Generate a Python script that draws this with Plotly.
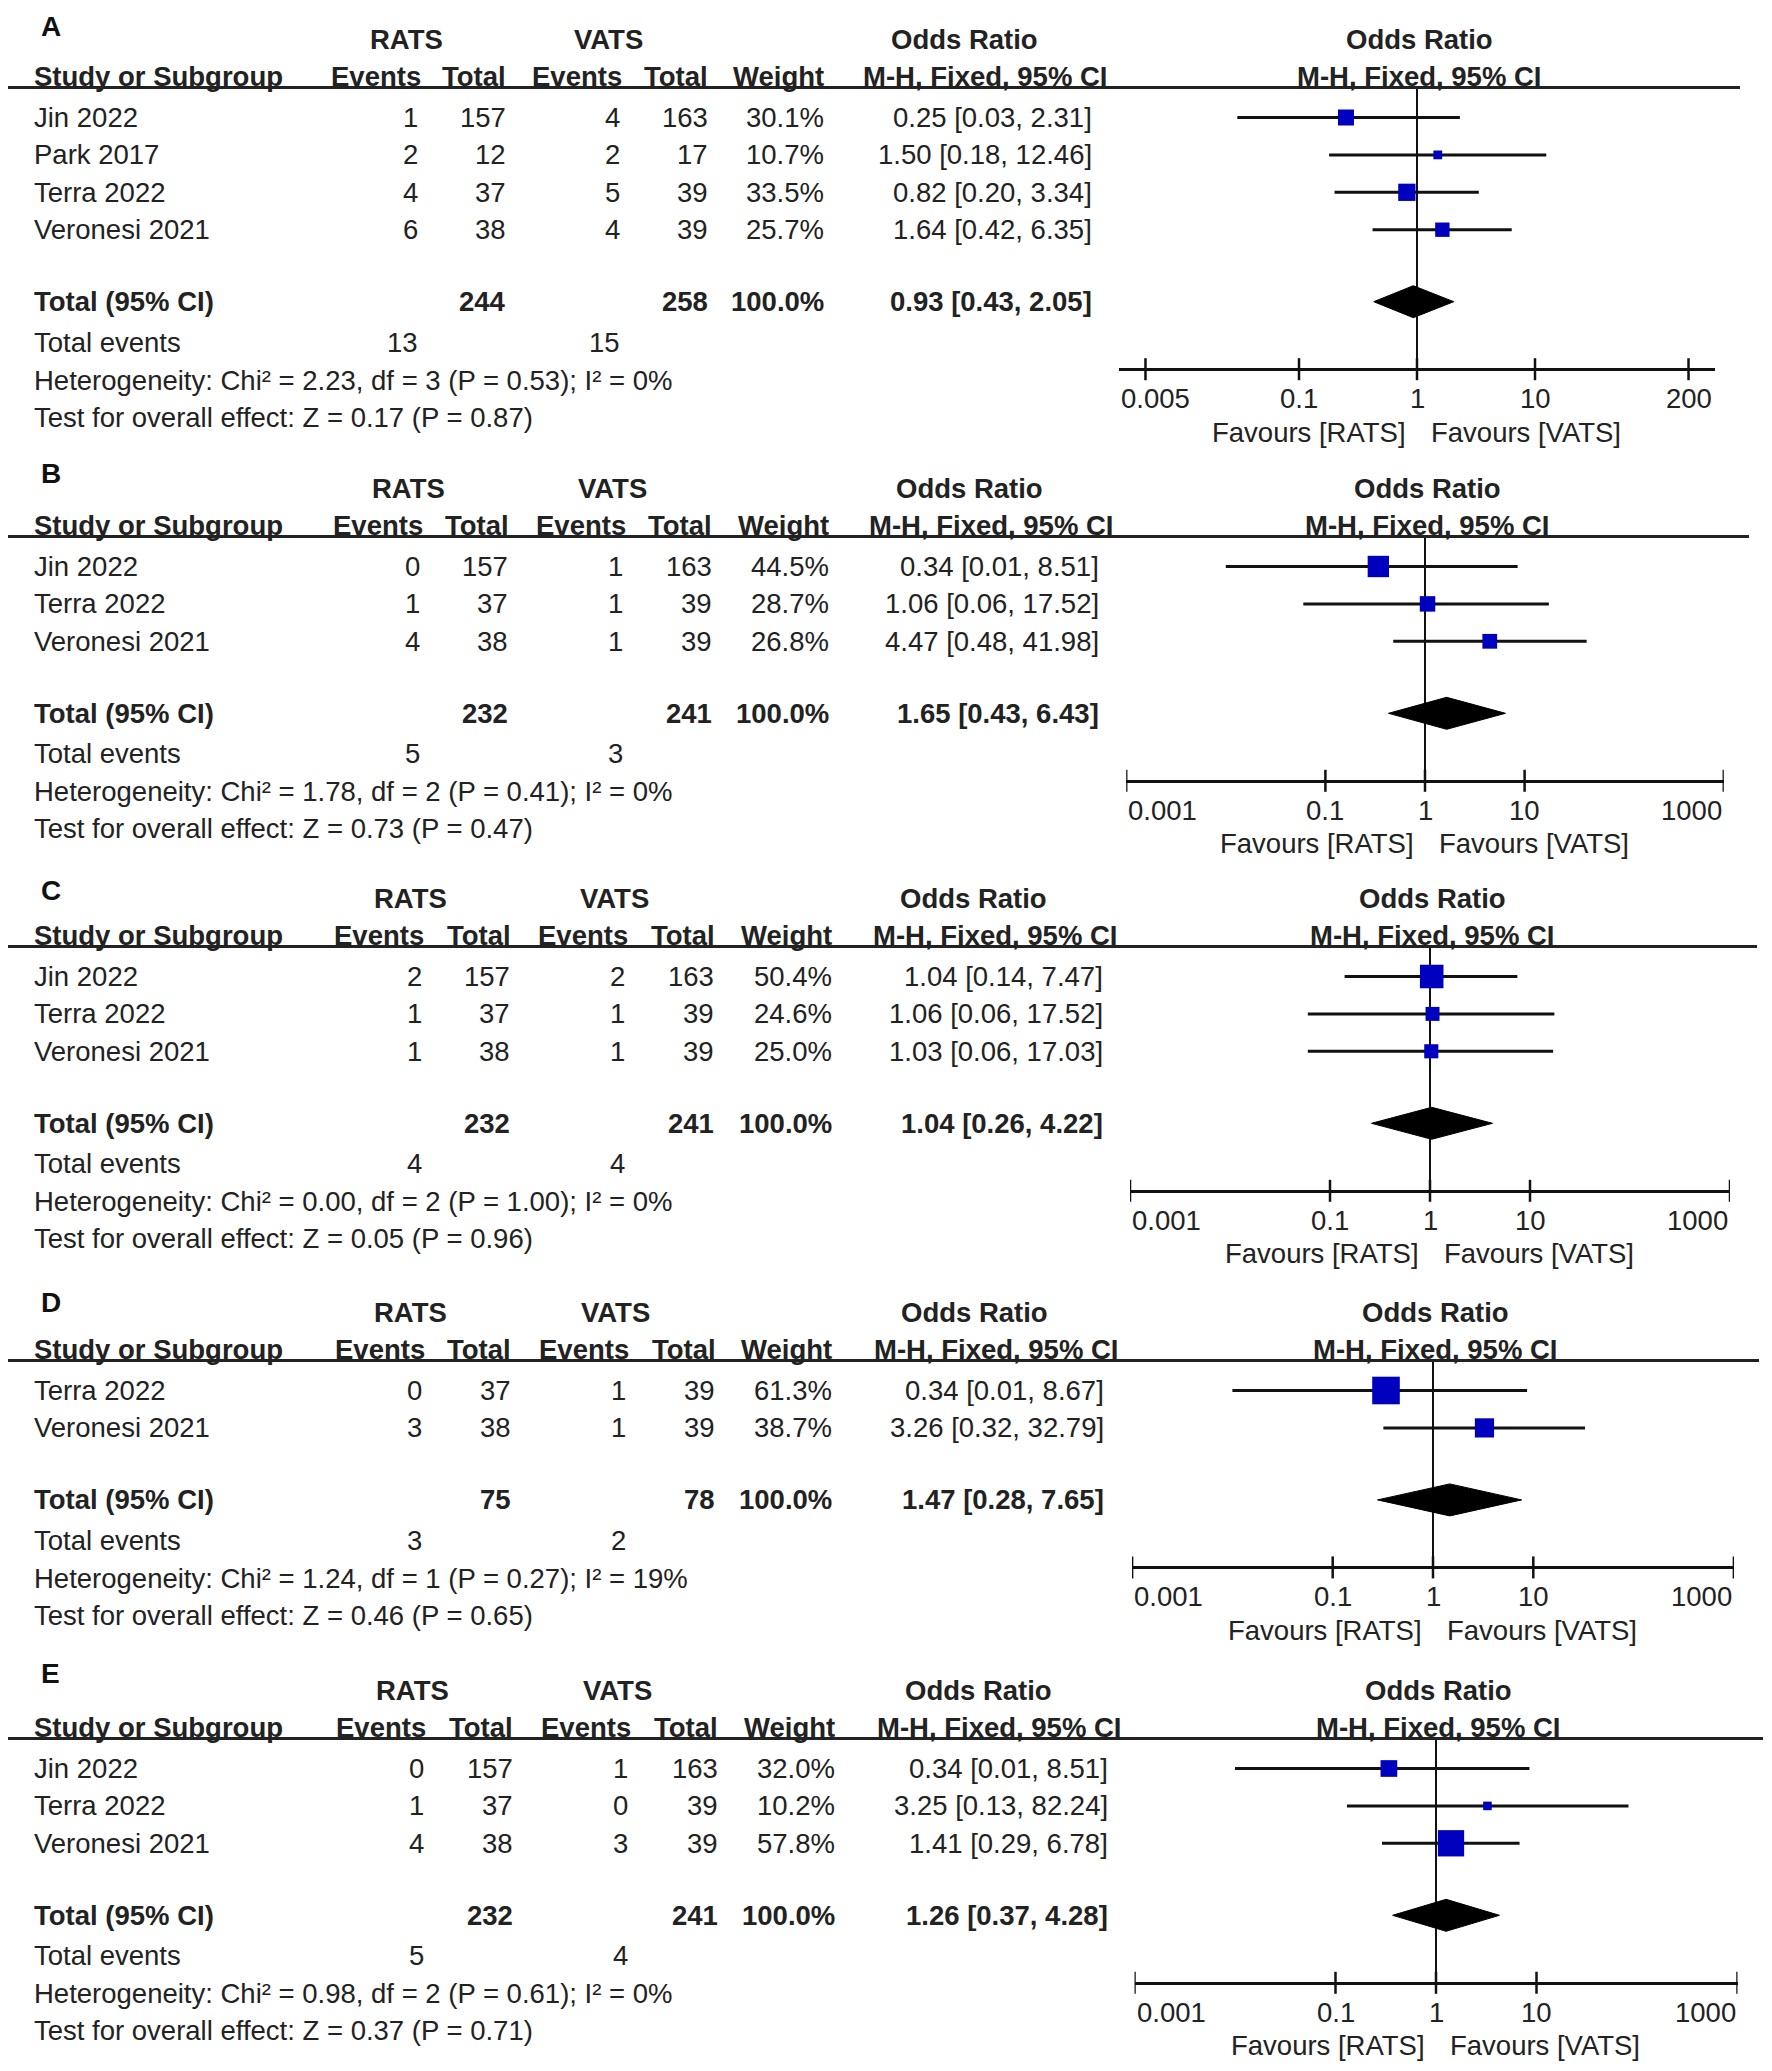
import math
import plotly.graph_objects as go

# ---------------- data ----------------
panel_letters = ["A", "B", "C", "D", "E"]

A_study = ["Jin 2022", "Park 2017", "Terra 2022", "Veronesi 2021"]
A_rats_events = [1, 2, 4, 6]
A_rats_total = [157, 12, 37, 38]
A_vats_events = [4, 2, 5, 4]
A_vats_total = [163, 17, 39, 39]
A_weight = [30.1, 10.7, 33.5, 25.7]
A_or = [0.25, 1.50, 0.82, 1.64]
A_lo = [0.03, 0.18, 0.20, 0.42]
A_hi = [2.31, 12.46, 3.34, 6.35]
A_sum_total = [244, 258]
A_sum_events = [13, 15]
A_pooled = [0.93, 0.43, 2.05]
A_het = "Heterogeneity: Chi² = 2.23, df = 3 (P = 0.53); I² = 0%"
A_test = "Test for overall effect: Z = 0.17 (P = 0.87)"
A_ticks = [0.005, 0.1, 1, 10, 200]
A_tick_labels = ["0.005", "0.1", "1", "10", "200"]

B_study = ["Jin 2022", "Terra 2022", "Veronesi 2021"]
B_rats_events = [0, 1, 4]
B_rats_total = [157, 37, 38]
B_vats_events = [1, 1, 1]
B_vats_total = [163, 39, 39]
B_weight = [44.5, 28.7, 26.8]
B_or = [0.34, 1.06, 4.47]
B_lo = [0.01, 0.06, 0.48]
B_hi = [8.51, 17.52, 41.98]
B_sum_total = [232, 241]
B_sum_events = [5, 3]
B_pooled = [1.65, 0.43, 6.43]
B_het = "Heterogeneity: Chi² = 1.78, df = 2 (P = 0.41); I² = 0%"
B_test = "Test for overall effect: Z = 0.73 (P = 0.47)"

C_study = ["Jin 2022", "Terra 2022", "Veronesi 2021"]
C_rats_events = [2, 1, 1]
C_rats_total = [157, 37, 38]
C_vats_events = [2, 1, 1]
C_vats_total = [163, 39, 39]
C_weight = [50.4, 24.6, 25.0]
C_or = [1.04, 1.06, 1.03]
C_lo = [0.14, 0.06, 0.06]
C_hi = [7.47, 17.52, 17.03]
C_sum_total = [232, 241]
C_sum_events = [4, 4]
C_pooled = [1.04, 0.26, 4.22]
C_het = "Heterogeneity: Chi² = 0.00, df = 2 (P = 1.00); I² = 0%"
C_test = "Test for overall effect: Z = 0.05 (P = 0.96)"

D_study = ["Terra 2022", "Veronesi 2021"]
D_rats_events = [0, 3]
D_rats_total = [37, 38]
D_vats_events = [1, 1]
D_vats_total = [39, 39]
D_weight = [61.3, 38.7]
D_or = [0.34, 3.26]
D_lo = [0.01, 0.32]
D_hi = [8.67, 32.79]
D_sum_total = [75, 78]
D_sum_events = [3, 2]
D_pooled = [1.47, 0.28, 7.65]
D_het = "Heterogeneity: Chi² = 1.24, df = 1 (P = 0.27); I² = 19%"
D_test = "Test for overall effect: Z = 0.46 (P = 0.65)"

E_study = ["Jin 2022", "Terra 2022", "Veronesi 2021"]
E_rats_events = [0, 1, 4]
E_rats_total = [157, 37, 38]
E_vats_events = [1, 0, 3]
E_vats_total = [163, 39, 39]
E_weight = [32.0, 10.2, 57.8]
E_or = [0.34, 3.25, 1.41]
E_lo = [0.01, 0.13, 0.29]
E_hi = [8.51, 82.24, 6.78]
E_sum_total = [232, 241]
E_sum_events = [5, 4]
E_pooled = [1.26, 0.37, 4.28]
E_het = "Heterogeneity: Chi² = 0.98, df = 2 (P = 0.61); I² = 0%"
E_test = "Test for overall effect: Z = 0.37 (P = 0.71)"

BE_ticks = [0.001, 0.1, 1, 10, 1000]
BE_tick_labels = ["0.001", "0.1", "1", "10", "1000"]

group_labels = ["RATS", "VATS"]
column_labels = ["Study or Subgroup", "Events", "Total", "Events", "Total", "Weight"]
effect_title = "Odds Ratio"
effect_method = "M-H, Fixed, 95% CI"
total_label = "Total (95% CI)"
events_label = "Total events"
favour_labels = ["Favours [RATS]", "Favours [VATS]"]

panels = [
    dict(study=A_study, re=A_rats_events, rt=A_rats_total, ve=A_vats_events, vt=A_vats_total,
         w=A_weight, orr=A_or, lo=A_lo, hi=A_hi, st=A_sum_total, se=A_sum_events, pooled=A_pooled,
         het=A_het, test=A_test, ticks=A_ticks, tl=A_tick_labels),
    dict(study=B_study, re=B_rats_events, rt=B_rats_total, ve=B_vats_events, vt=B_vats_total,
         w=B_weight, orr=B_or, lo=B_lo, hi=B_hi, st=B_sum_total, se=B_sum_events, pooled=B_pooled,
         het=B_het, test=B_test, ticks=BE_ticks, tl=BE_tick_labels),
    dict(study=C_study, re=C_rats_events, rt=C_rats_total, ve=C_vats_events, vt=C_vats_total,
         w=C_weight, orr=C_or, lo=C_lo, hi=C_hi, st=C_sum_total, se=C_sum_events, pooled=C_pooled,
         het=C_het, test=C_test, ticks=BE_ticks, tl=BE_tick_labels),
    dict(study=D_study, re=D_rats_events, rt=D_rats_total, ve=D_vats_events, vt=D_vats_total,
         w=D_weight, orr=D_or, lo=D_lo, hi=D_hi, st=D_sum_total, se=D_sum_events, pooled=D_pooled,
         het=D_het, test=D_test, ticks=BE_ticks, tl=BE_tick_labels),
    dict(study=E_study, re=E_rats_events, rt=E_rats_total, ve=E_vats_events, vt=E_vats_total,
         w=E_weight, orr=E_or, lo=E_lo, hi=E_hi, st=E_sum_total, se=E_sum_events, pooled=E_pooled,
         het=E_het, test=E_test, ticks=BE_ticks, tl=BE_tick_labels),
]

# ---------------- layout geometry (screen pixels) ----------------
W, H = 1772, 2071
OFF = 8                      # default page body margin
FW, FH = W - 2 * OFF, H - 2 * OFF
FONT = "Liberation Sans, Arial, Helvetica, sans-serif"
FS = 27.5
TC = "#222222"
BLUE = "#0000BE"

base_y = [39, 488, 898, 1312, 1690]
letter_y = [26, 473, 890, 1302, 1673]
xscale = [1.0, 1.0063, 1.0101, 1.0113, 1.0151]
one_x = [1417, 1425, 1430, 1433, 1436]
decade_px = [118, 99.6, 100, 100.3, 100.5]
half_span = [2.525, 3, 3, 3, 3]
rule_right = [1740, 1749, 1757, 1759, 1763]

COL_LEFT = 31.6
HDR_RATS_EV, VAL_RATS_EV = 422.5, 420
HDR_RATS_TOT, VAL_RATS_TOT = 508, 507.5
HDR_VATS_EV, VAL_VATS_EV = 624, 621.5
HDR_VATS_TOT, VAL_VATS_TOT = 710, 709.5
COL_WEIGHT = 825.5
COL_OR = 1094
CTR_RATS, CTR_VATS = 406.5, 608.5
CTR_ORTITLE, CTR_MH = 964, 985.5

ROW_GAP = 37.4


def px(sx):
    return (sx - OFF) / FW


fig = go.Figure()
annotations = []
shapes = []


def txt(x, y, s, anchor="left", bold=False, size=FS, color=TC):
    annotations.append(dict(
        xref="paper", yref="y", x=px(x), y=y,
        text=f"<b>{s}</b>" if bold else str(s), showarrow=False,
        xanchor=anchor, yanchor="middle",
        font=dict(family=FONT, size=size, color=color)))


def text_width(s):
    return sum(0.278 if c == "." else 0.556 for c in s) * FS


layout_axes = {}
for k, p in enumerate(panels):
    s = xscale[k]

    def X(xa):
        return COL_LEFT + (xa - COL_LEFT) * s

    y0 = base_y[k]
    y_hdr = y0 + 37
    y_rule = y0 + 48.5
    rows = [y0 + 78.5 + ROW_GAP * i for i in range(len(p["study"]))]
    y_total = rows[-1] + 72
    y_events = y_total + 40.5
    y_het = y_events + 38
    y_test = y_het + 37
    y_axis = y_total + 67.5
    y_ticklab = y_axis + 29.5
    y_fav = y_axis + 63

    # panel letter
    txt(39, letter_y[k], panel_letters[k], "left", True, 28, "#111111")

    # headers
    txt(X(CTR_RATS), y0, group_labels[0], "center", True)
    txt(X(CTR_VATS), y0, group_labels[1], "center", True)
    txt(X(CTR_ORTITLE), y0, effect_title, "center", True)
    txt(X(COL_LEFT), y_hdr, column_labels[0], "left", True)
    txt(X(HDR_RATS_EV), y_hdr, column_labels[1], "right", True)
    txt(X(HDR_RATS_TOT), y_hdr, column_labels[2], "right", True)
    txt(X(HDR_VATS_EV), y_hdr, column_labels[3], "right", True)
    txt(X(HDR_VATS_TOT), y_hdr, column_labels[4], "right", True)
    txt(X(COL_WEIGHT), y_hdr, column_labels[5], "right", True)
    txt(X(CTR_MH), y_hdr, effect_method, "center", True)
    txt(one_x[k] + 2, y0, effect_title, "center", True)
    txt(one_x[k] + 2, y_hdr, effect_method, "center", True)

    shapes.append(dict(type="line", xref="paper", yref="y", x0=px(8), x1=px(rule_right[k]),
                       y0=y_rule, y1=y_rule, line=dict(color=TC, width=3)))

    # study rows
    for i, yr in enumerate(rows):
        txt(X(COL_LEFT), yr, p["study"][i])
        txt(X(VAL_RATS_EV), yr, p["re"][i], "right")
        txt(X(VAL_RATS_TOT), yr, p["rt"][i], "right")
        txt(X(VAL_VATS_EV), yr, p["ve"][i], "right")
        txt(X(VAL_VATS_TOT), yr, p["vt"][i], "right")
        txt(X(COL_WEIGHT), yr, f"{p['w'][i]:.1f}%", "right")
        txt(X(COL_OR), yr, f"{p['orr'][i]:.2f} [{p['lo'][i]:.2f}, {p['hi'][i]:.2f}]", "right")

    # totals
    txt(X(COL_LEFT), y_total, total_label, "left", True)
    txt(X(VAL_RATS_TOT), y_total, p["st"][0], "right", True)
    txt(X(VAL_VATS_TOT), y_total, p["st"][1], "right", True)
    txt(X(COL_WEIGHT), y_total, "100.0%", "right", True)
    pm, pl, ph = p["pooled"]
    txt(X(COL_OR), y_total, f"{pm:.2f} [{pl:.2f}, {ph:.2f}]", "right", True)
    txt(X(COL_LEFT), y_events, events_label)
    txt(X(VAL_RATS_EV), y_events, p["se"][0], "right")
    txt(X(VAL_VATS_EV), y_events, p["se"][1], "right")
    txt(X(COL_LEFT), y_het, p["het"])
    txt(X(COL_LEFT), y_test, p["test"])

    # favours labels
    txt(one_x[k] - 9, y_fav, favour_labels[0], "right")
    txt(one_x[k] + 12, y_fav, favour_labels[1], "left")

    # forest axis
    xa = "x" if k == 0 else f"x{k + 1}"
    axname = "xaxis" if k == 0 else f"xaxis{k + 1}"
    hs = half_span[k]
    dpx = decade_px[k]
    ax_l, ax_r = one_x[k] - hs * dpx, one_x[k] + hs * dpx
    layout_axes[axname] = dict(
        type="log", range=[-hs, hs], domain=[px(ax_l), px(ax_r)], anchor="free",
        position=1 - (y_axis - OFF) / FH,
        showline=True, linecolor="#111111", linewidth=3, ticks="", showticklabels=False,
        showgrid=False, zeroline=False, fixedrange=True)

    # tick marks crossing the axis line
    tx, ty = [], []
    for t in p["ticks"]:
        tx += [t, t, None]
        ty += [y_axis - 11, y_axis + 11, None]
    fig.add_trace(go.Scatter(x=tx, y=ty, xaxis=xa, yaxis="y", mode="lines",
                             line=dict(color="#111111", width=2.5), hoverinfo="skip", showlegend=False,
                             cliponaxis=False))

    # tick labels, kept inside the axis line extent
    for t, lab in zip(p["ticks"], p["tl"]):
        lt = math.log10(t)
        tpx = one_x[k] + lt * dpx
        wlab = text_width(lab)
        if tpx - wlab / 2 < ax_l:
            xpos, anch = -hs, "left"
        elif tpx + wlab / 2 > ax_r:
            xpos, anch = hs, "right"
        else:
            xpos, anch = lt, "center"
        annotations.append(dict(xref=xa, yref="y", x=xpos, y=y_ticklab, text=lab, showarrow=False,
                                xanchor=anch, yanchor="middle",
                                font=dict(family=FONT, size=FS, color=TC)))

    # vertical line of no effect
    fig.add_trace(go.Scatter(x=[1, 1], y=[y_rule, y_axis], xaxis=xa, yaxis="y", mode="lines",
                             line=dict(color="#111111", width=2), hoverinfo="skip", showlegend=False,
                             cliponaxis=False))

    # confidence intervals
    cx, cy = [], []
    for i, yr in enumerate(rows):
        cx += [p["lo"][i], p["hi"][i], None]
        cy += [yr, yr, None]
    fig.add_trace(go.Scatter(x=cx, y=cy, xaxis=xa, yaxis="y", mode="lines",
                             line=dict(color="#111111", width=3), hoverinfo="skip", showlegend=False,
                             cliponaxis=False))

    # weighted squares
    sizes = [4.8 + 0.372 * w for w in p["w"]]
    fig.add_trace(go.Scatter(x=p["orr"], y=rows, xaxis=xa, yaxis="y", mode="markers",
                             marker=dict(symbol="square", size=sizes, color=BLUE, opacity=1,
                                         line=dict(width=0)),
                             hoverinfo="skip", showlegend=False, cliponaxis=False))

    # pooled diamond
    fig.add_trace(go.Scatter(x=[pl, pm, ph, pm, pl], y=[y_total, y_total - 16, y_total, y_total + 16, y_total],
                             xaxis=xa, yaxis="y", mode="lines", fill="toself", fillcolor="#000000",
                             line=dict(color="#000000", width=1), hoverinfo="skip", showlegend=False,
                             cliponaxis=False))

fig.update_layout(
    width=FW, height=FH, margin=dict(l=0, r=0, t=0, b=0),
    paper_bgcolor="white", plot_bgcolor="rgba(0,0,0,0)",
    yaxis=dict(range=[FH + OFF, OFF], domain=[0, 1], visible=False, fixedrange=True),
    annotations=annotations, shapes=shapes, showlegend=False,
    **layout_axes,
)

fig.write_html("out.html")
